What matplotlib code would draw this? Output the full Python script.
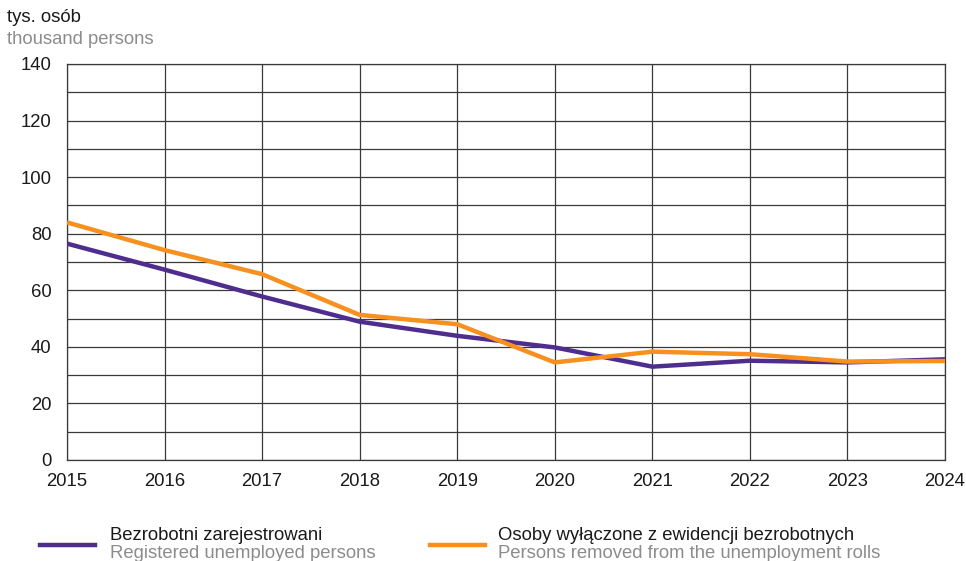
import matplotlib
matplotlib.use('Agg')
import matplotlib.pyplot as plt
from matplotlib.lines import Line2D

plt.rcParams['font.family'] = ['Liberation Sans', 'DejaVu Sans']

# DATA
years = [2015, 2016, 2017, 2018, 2019, 2020, 2021, 2022, 2023, 2024]
registered = [76.5, 67.3, 57.8, 48.9, 43.9, 39.8, 33.0, 35.1, 34.5, 35.6]
removed = [84.0, 74.2, 65.7, 51.3, 48.0, 34.5, 38.3, 37.4, 34.8, 35.0]
y_ticks = [0, 20, 40, 60, 80, 100, 120, 140]

purple = '#4f2d8f'
orange = '#f7901e'
grid_col = '#3a3a3a'
fs = 13.3

fig = plt.figure(figsize=(9.66, 5.61), dpi=100)
ax = fig.add_axes([67 / 966, 1 - 460 / 561, (945 - 67) / 966, (460 - 64) / 561])

ax.plot(years, registered, color=purple, lw=3.2, solid_capstyle='butt', zorder=3)
ax.plot(years, removed, color=orange, lw=3.2, solid_capstyle='butt', zorder=4)

ax.set_xlim(2015, 2024)
ax.set_ylim(0, 140)
ax.set_xticks(years)
ax.set_yticks(y_ticks)
ax.set_yticks(range(0, 141, 10), minor=True)
ax.grid(True, which='both', color=grid_col, lw=0.9)
ax.tick_params(which='both', length=0, labelsize=fs, colors='#1a1a1a')
ax.tick_params(axis='y', pad=11)
ax.tick_params(axis='x', pad=9)
for s in ax.spines.values():
    s.set_color(grid_col)
    s.set_linewidth(0.9)

# header
fig.text(7 / 966, 1 - 18 / 561, 'tys. osób', fontsize=fs, color='#1a1a1a', va='center')
fig.text(7 / 966, 1 - 39 / 561, 'thousand persons', fontsize=fs, color='#8c8c8c', va='center')

# legend at bottom
for x0, x1, xt, col, t1, t2 in [(40, 95, 110, purple, 'Bezrobotni zarejestrowani', 'Registered unemployed persons'),
                                (430, 485, 498, orange, 'Osoby wyłączone z ewidencji bezrobotnych',
                                 'Persons removed from the unemployment rolls')]:
    fig.add_artist(Line2D([x0 / 966, x1 / 966], [1 - 545 / 561, 1 - 545 / 561], color=col, lw=3.2))
    fig.text(xt / 966, 1 - 536 / 561, t1, fontsize=fs, color='#1a1a1a', va='center')
    fig.text(xt / 966, 1 - 554 / 561, t2, fontsize=fs, color='#8c8c8c', va='center')

fig.savefig('out.png', dpi=100)
